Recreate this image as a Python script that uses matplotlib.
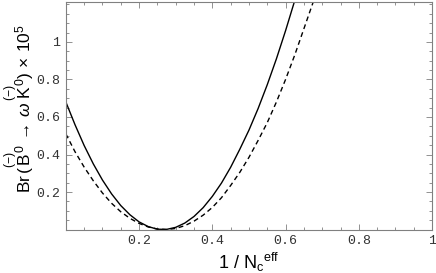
import numpy as np
import matplotlib
matplotlib.use("Agg")
import matplotlib.pyplot as plt
from matplotlib.ticker import MultipleLocator, FixedLocator

# 1/Nc_eff grid and branching ratios (x 1e5)
x_solid = [0.0, 0.025, 0.05, 0.075, 0.1, 0.125, 0.15, 0.175, 0.2, 0.225, 0.25,
           0.275, 0.3, 0.325, 0.35, 0.375, 0.4, 0.425, 0.45, 0.475, 0.5, 0.525,
           0.55, 0.575, 0.6, 0.625, 0.65]
br_solid = [0.68, 0.559, 0.448, 0.350, 0.264, 0.190, 0.128, 0.079, 0.041, 0.016,
            0.002, 0.001, 0.012, 0.035, 0.070, 0.117, 0.177, 0.248, 0.332, 0.428,
            0.530, 0.645, 0.772, 0.910, 1.060, 1.220, 1.39]

x_dashed = [0.0, 0.025, 0.05, 0.075, 0.1, 0.125, 0.15, 0.175, 0.2, 0.225, 0.25,
            0.275, 0.3, 0.325, 0.35, 0.375, 0.4, 0.425, 0.45, 0.475, 0.5, 0.525,
            0.55, 0.575, 0.6, 0.625, 0.65, 0.675, 0.7]
br_dashed = [0.51, 0.415, 0.333, 0.26, 0.195, 0.14, 0.095, 0.06, 0.033, 0.014,
             0.003, 0.0002, 0.006, 0.021, 0.045, 0.077, 0.118, 0.170, 0.235, 0.305,
             0.385, 0.475, 0.57, 0.68, 0.80, 0.93, 1.07, 1.21, 1.36]

x_ticks = [0.2, 0.4, 0.6, 0.8, 1]
y_ticks = [0.2, 0.4, 0.6, 0.8, 1]

plt.rcParams['mathtext.fontset'] = 'custom'
plt.rcParams['mathtext.rm'] = 'Liberation Sans'
plt.rcParams['mathtext.it'] = 'Liberation Sans:italic'

fig = plt.figure(figsize=(4.36, 2.73), dpi=100)
ax = fig.add_axes([0.151, 0.159, 0.840, 0.834])

ax.plot(x_solid, br_solid, color='black', lw=1.0)
ax.plot(x_dashed, br_dashed, color='black', lw=1.0, dashes=(3.5, 2.5))

ax.set_xlim(0, 1)
ax.set_ylim(0, 1.213)

ax.xaxis.set_major_locator(FixedLocator(x_ticks))
ax.yaxis.set_major_locator(FixedLocator(y_ticks))
ax.xaxis.set_minor_locator(MultipleLocator(0.05))
ax.yaxis.set_minor_locator(MultipleLocator(0.05))
ax.set_xticklabels(['0.2', '0.4', '0.6', '0.8', '1'])
ax.set_yticklabels(['0.2', '0.4', '0.6', '0.8', '1'])

ax.tick_params(which='both', direction='in', top=True, right=True,
               color='#808080', width=0.6)
ax.tick_params(which='major', length=4.5, labelsize=9.5, pad=4)
ax.tick_params(which='minor', length=2.5)
for lab in ax.get_xticklabels() + ax.get_yticklabels():
    lab.set_family('Liberation Mono')
    lab.set_color('#333333')
for s in ax.spines.values():
    s.set_color('#808080')
    s.set_linewidth(0.8)

ax.set_xlabel(r'1 / N$_\mathrm{c}$$^\mathrm{eff}$', family='Liberation Sans',
              fontsize=13, labelpad=3)
ax.set_ylabel(r'Br$\,(\overset{(-)}{\mathrm{B}}{}^{0}\,\rightarrow\,\omega\,'
              r'\overset{(-)}{\mathrm{K}}{}^{0})\,\times\,10^{5}$',
              family='Liberation Sans', fontsize=12.5)
ax.yaxis.set_label_coords(-0.082, 0.53)

fig.savefig('out.png', dpi=100)
